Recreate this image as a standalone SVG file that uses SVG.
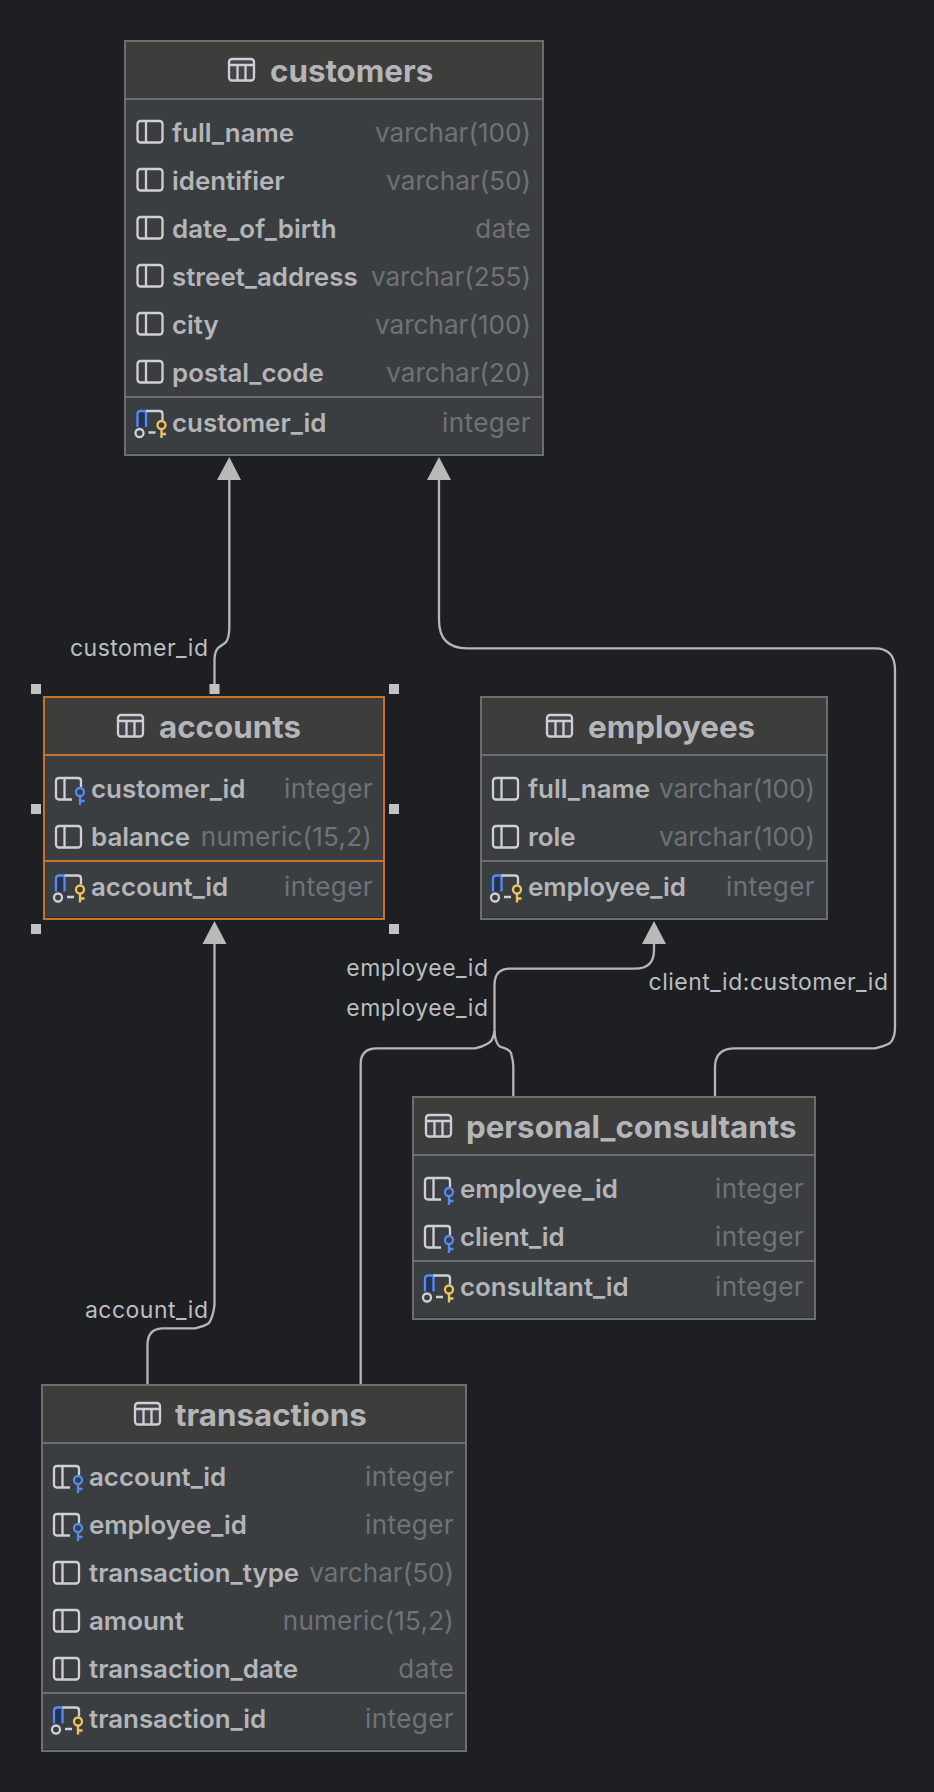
<svg xmlns="http://www.w3.org/2000/svg" width="934" height="1792" viewBox="0 0 934 1792">
<style>
text{font-family:Inter,"Noto Sans",sans-serif}
.box{fill:#3b3e41;stroke:#6d6e6d;stroke-width:2}
.hd{fill:#3d3d3c}
.ln{stroke:#6d6e6d;stroke-width:2;fill:none}
.sh{stroke:#2b2d30;stroke-width:1;fill:none}
.sel .box{stroke:#c6742c}.sel .ln{stroke:#c6742c}
.t{font-size:31.300px;font-weight:700;fill:#b4b5b9}
.n{font-size:25.900px;font-weight:600;fill:#b4b5b9}
.y{font-size:26.100px;fill:#6f7277;text-anchor:end}
.i{letter-spacing:.4px}
.m{letter-spacing:.2px}
.l{font-size:23px;letter-spacing:.5px;fill:#bcbec1;text-anchor:end}
.c{fill:none;stroke:#b6b6b6;stroke-width:2.300}
.a{fill:#b9b9b9}
.h{fill:#c2c2c2}
.ic{fill:none;stroke:#ced0d6;stroke-width:2.300}
</style>
<defs>
<g id="tbl"><rect x="1" y="1" width="25" height="21.500" rx="3" fill="#43454a" stroke="#ced0d6" stroke-width="2.300"/><path d="M1 7H26M9.500 7V22.500M17.500 7V22.500" class="ic"/></g>
<g id="col"><rect x="1" y="1" width="25" height="21.500" rx="3" class="ic"/><path d="M9.500 1V22.500" class="ic"/></g>
<g id="fk"><path d="M17 22.500H4Q1 22.500 1 19.500V4Q1 1 4 1H23Q26 1 26 4V10M9.500 1V22.500" class="ic"/><circle cx="25" cy="15" r="4" fill="#3b3e41" stroke="#548af7" stroke-width="2.300"/><path d="M25 19V28M25 24H29.500" fill="none" stroke="#548af7" stroke-width="2.300"/></g>
<g id="pk"><path d="M1 17V4Q1 1 4 1H9.500V17H1Z" fill="#25324d"/><path d="M1 17V4Q1 1 4 1H9.500V17" fill="none" stroke="#548af7" stroke-width="2.300"/><path d="M9.500 1H23Q26 1 26 4V10M12 22.500H19" class="ic"/><circle cx="3" cy="23" r="4" fill="#3b3e41" stroke="#ced0d6" stroke-width="2.300"/><circle cx="25" cy="15" r="4" fill="#3b3e41" stroke="#f2c55c" stroke-width="2.300"/><path d="M25 19V28M25 24H29.500" fill="none" stroke="#f2c55c" stroke-width="2.300"/></g>
</defs>
<rect width="934" height="1792" fill="#1e1f22"/>

<g id="connectors">
<path class="c" d="M214.500 690V660Q214.500 652 218 648Q222 645 225 643Q229 640 229.300 628V478"/>
<polygon class="a" points="229.300,457 217,480 241,480"/>
<path class="c" d="M439 478V620Q439 648.300 467 648.300H875Q895 648.300 895 670V1028Q895 1038 890 1043Q885 1046 875 1048.300H735Q715 1048.300 715 1067V1097"/>
<polygon class="a" points="439,457 427,480 451,480"/>
<path class="c" d="M214.500 942V1305Q213 1317 209 1323Q205 1326 195 1328.300H162Q147.500 1329 147.500 1345V1385"/>
<polygon class="a" points="214.500,921 202.500,944 226.500,944"/>
<path class="c" d="M654 942V950Q654 968.700 635 968.700H510Q494.500 968.700 494.500 985V1031Q493 1042 487 1044Q482 1047 475 1048.300H377Q360.700 1048.300 360.700 1064V1385"/>
<path class="c" d="M494.500 1031Q495 1043 500 1046.700Q509 1049 511 1053Q513 1060 513.300 1066V1097"/>
<polygon class="a" points="654,921 642,944 666,944"/>
<g>
<text class="l" x="208.500" y="656">customer_id</text>
<text class="l" x="488.500" y="976">employee_id</text>
<text class="l" x="488.500" y="1016">employee_id</text>
<text class="l" x="888.500" y="990">client_id:customer_id</text>
<text class="l" x="208.500" y="1318">account_id</text>
</g>
</g>

<g id="customers">
<rect class="box" x="125" y="41" width="418" height="414"/><rect class="hd" x="126" y="42" width="416" height="57"/>
<path class="ln" d="M126 99H542M126 397H542"/><path class="sh" d="M126 453.500H542"/>
<use href="#tbl" x="228" y="58"/><text class="t" x="270" y="81.500">customers</text>
<use href="#col" x="136.500" y="120"/><text class="n" x="172" y="142">full_name</text><text class="y" x="531" y="142">varchar(100)</text>
<use href="#col" x="136.500" y="168"/><text class="n" x="172" y="190">identifier</text><text class="y" x="531" y="190">varchar(50)</text>
<use href="#col" x="136.500" y="216"/><text class="n" x="172" y="238">date_of_birth</text><text class="y i" x="531" y="238">date</text>
<use href="#col" x="136.500" y="264"/><text class="n" x="172" y="286">street_address</text><text class="y" x="531" y="286">varchar(255)</text>
<use href="#col" x="136.500" y="312"/><text class="n" x="172" y="334">city</text><text class="y" x="531" y="334">varchar(100)</text>
<use href="#col" x="136.500" y="360"/><text class="n" x="172" y="382">postal_code</text><text class="y" x="531" y="382">varchar(20)</text>
<use href="#pk" x="136.500" y="410"/><text class="n" x="172" y="432">customer_id</text><text class="y i" x="531" y="432">integer</text>
</g>

<g id="accounts" class="sel">
<rect class="box" x="44" y="697" width="340" height="222"/><rect class="hd" x="45" y="698" width="338" height="57"/>
<path class="ln" d="M45 755H383M45 861H383"/><path class="sh" d="M45 917.500H383"/>
<use href="#tbl" x="117" y="714"/><text class="t" x="159" y="737.500">accounts</text>
<use href="#fk" x="55" y="777"/><text class="n" x="91" y="798">customer_id</text><text class="y i" x="373" y="798">integer</text>
<use href="#col" x="55" y="825"/><text class="n" x="91" y="846">balance</text><text class="y m" x="372" y="846">numeric(15,2)</text>
<use href="#pk" x="55" y="874.500"/><text class="n" x="91" y="896">account_id</text><text class="y i" x="373" y="896">integer</text>
</g>
<g id="selection-handles">
<rect class="h" x="31" y="684" width="10" height="10"/><rect class="h" x="209.500" y="684" width="10" height="10"/><rect class="h" x="389" y="684" width="10" height="10"/>
<rect class="h" x="31" y="804" width="10" height="10"/><rect class="h" x="389" y="804" width="10" height="10"/>
<rect class="h" x="31" y="924" width="10" height="10"/><rect class="h" x="389" y="924" width="10" height="10"/>
</g>

<g id="employees">
<rect class="box" x="481" y="697" width="346" height="222"/><rect class="hd" x="482" y="698" width="344" height="57"/>
<path class="ln" d="M482 755H826M482 861H826"/><path class="sh" d="M482 917.500H826"/>
<use href="#tbl" x="546" y="714"/><text class="t" x="588" y="737.500">employees</text>
<use href="#col" x="492" y="777"/><text class="n" x="528" y="798">full_name</text><text class="y" x="815" y="798">varchar(100)</text>
<use href="#col" x="492" y="825"/><text class="n" x="528" y="846">role</text><text class="y" x="815" y="846">varchar(100)</text>
<use href="#pk" x="492" y="874.500"/><text class="n" x="528" y="896">employee_id</text><text class="y i" x="815" y="896">integer</text>
</g>

<g id="personal_consultants">
<rect class="box" x="413" y="1097" width="402" height="222"/><rect class="hd" x="414" y="1098" width="400" height="57"/>
<path class="ln" d="M414 1155H814M414 1261H814"/><path class="sh" d="M414 1317.500H814"/>
<use href="#tbl" x="425" y="1114"/><text class="t" x="466" y="1137.500">personal_consultants</text>
<use href="#fk" x="424" y="1177"/><text class="n" x="460" y="1198">employee_id</text><text class="y i" x="804" y="1198">integer</text>
<use href="#fk" x="424" y="1225"/><text class="n" x="460" y="1246">client_id</text><text class="y i" x="804" y="1246">integer</text>
<use href="#pk" x="424" y="1274.500"/><text class="n" x="460" y="1296">consultant_id</text><text class="y i" x="804" y="1296">integer</text>
</g>

<g id="transactions">
<rect class="box" x="42" y="1385" width="424" height="366"/><rect class="hd" x="43" y="1386" width="422" height="57"/>
<path class="ln" d="M43 1443H465M43 1693H465"/><path class="sh" d="M43 1749.500H465"/>
<use href="#tbl" x="134" y="1402"/><text class="t" x="175" y="1425.500">transactions</text>
<use href="#fk" x="53" y="1465"/><text class="n" x="89" y="1486">account_id</text><text class="y i" x="454" y="1486">integer</text>
<use href="#fk" x="53" y="1513"/><text class="n" x="89" y="1534">employee_id</text><text class="y i" x="454" y="1534">integer</text>
<use href="#col" x="53" y="1561"/><text class="n" x="89" y="1582">transaction_type</text><text class="y" x="454" y="1582">varchar(50)</text>
<use href="#col" x="53" y="1609"/><text class="n" x="89" y="1630">amount</text><text class="y m" x="454" y="1630">numeric(15,2)</text>
<use href="#col" x="53" y="1657"/><text class="n" x="89" y="1678">transaction_date</text><text class="y i" x="454" y="1678">date</text>
<use href="#pk" x="53" y="1706.500"/><text class="n" x="89" y="1728">transaction_id</text><text class="y i" x="454" y="1728">integer</text>
</g>
</svg>
